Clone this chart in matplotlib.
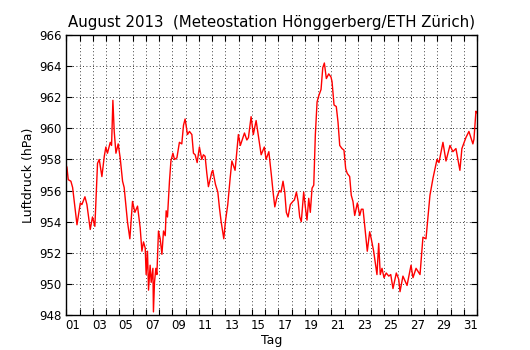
import matplotlib

matplotlib.use("Agg")
import matplotlib.pyplot as plt
from matplotlib.ticker import FixedLocator

# day of month as float (1.0 = 1 Aug 00:00, 32.0 = 1 Sep 00:00)
days = [
    1.00, 1.05, 1.15, 1.35, 1.48, 1.81, 2.06, 2.18, 2.41, 2.56, 2.81, 2.98, 3.16,
    3.36, 3.49, 3.69, 3.87, 3.99, 4.11, 4.32, 4.42, 4.52, 4.62, 4.75, 4.92, 5.07,
    5.25, 5.37, 5.62, 5.80, 6.00, 6.18, 6.38, 6.58, 6.71, 6.83, 6.96, 7.03, 7.13,
    7.21, 7.33, 7.41, 7.54, 7.58, 7.66, 7.76, 7.84, 7.96, 8.09, 8.22, 8.34, 8.47,
    8.54, 8.64, 8.79, 8.90, 9.05, 9.17, 9.35, 9.54, 9.72, 9.85, 9.97, 10.15, 10.30,
    10.48, 10.60, 10.73, 10.88, 11.05, 11.23, 11.35, 11.48, 11.61, 11.73, 11.99,
    12.06, 12.26, 12.44, 12.56, 12.69, 12.89, 13.01, 13.19, 13.37, 13.50, 13.62,
    13.74, 13.82, 13.99, 14.14, 14.45, 14.63, 14.75, 14.95, 15.12, 15.33, 15.50,
    15.71, 15.95, 16.08, 16.29, 16.48, 16.61, 16.74, 16.91, 17.09, 17.21, 17.36,
    17.49, 17.61, 17.74, 17.91, 18.10, 18.22, 18.37, 18.50, 18.62, 18.74, 18.92,
    19.05, 19.17, 19.30, 19.42, 19.55, 19.68, 19.80, 19.93, 20.06, 20.23, 20.36,
    20.48, 20.63, 20.81, 20.98, 21.06, 21.21, 21.38, 21.51, 21.64, 21.81, 21.96,
    22.09, 22.21, 22.39, 22.51, 22.64, 22.77, 22.97, 23.15, 23.27, 23.40, 23.57,
    23.72, 23.90, 24.02, 24.20, 24.35, 24.45, 24.58, 24.70, 24.83, 24.98, 25.15,
    25.34, 25.49, 25.66, 25.91, 26.09, 26.19, 26.41, 26.72, 27.02, 27.17, 27.40,
    27.70, 27.92, 28.15, 28.45, 28.68, 28.98, 29.13, 29.43, 29.66, 29.96, 30.18,
    30.41, 30.71, 30.86, 31.16, 31.39, 31.69, 31.77, 31.92, 32.00,
]

pressure = [
    957.6, 957.5, 956.7, 956.6, 956.2, 953.8, 955.2, 955.1, 955.6, 955.1, 953.5, 954.3, 953.7,
    957.75, 958.0, 956.9, 958.2, 958.8, 958.4, 959.1, 958.9, 961.8, 959.8, 958.4, 959.0, 958.1,
    956.6, 956.2, 954.0, 952.9, 955.3, 954.6, 955.0, 953.6, 952.1, 952.7, 952.3, 950.6, 952.1,
    949.6, 951.2, 950.1, 951.0, 948.2, 950.1, 951.0, 950.6, 953.4, 952.9, 951.9, 953.4, 953.1,
    954.7, 954.3, 956.6, 957.9, 958.4, 958.0, 958.1, 959.1, 959.0, 960.2, 960.6, 959.6, 959.8,
    959.6, 958.4, 958.3, 957.8, 958.8, 958.0, 958.3, 958.2, 957.1, 956.25, 957.2,
    957.3, 956.4, 955.9, 954.9, 954.0, 952.9, 954.0, 955.1, 956.8, 957.9, 957.6,
    957.3, 958.0, 959.6, 958.9, 959.7, 959.25, 959.4, 960.75, 959.6, 960.5, 959.5,
    958.3, 958.8, 958.0, 958.5, 957.0, 955.9, 954.95, 955.6, 956.0, 955.9, 956.6,
    955.9, 954.6, 954.3, 955.1, 955.3, 955.4, 955.9, 955.3, 954.3, 954.0, 955.9,
    954.9, 954.1, 955.5, 954.6, 956.15, 956.35, 959.6, 961.7, 962.1, 962.5, 963.9,
    964.2, 963.2, 963.5, 963.3, 963.0, 961.5, 961.4, 960.4, 958.9, 958.7, 958.6,
    957.4, 957.1, 956.9, 955.7, 955.3, 954.4, 955.2, 954.4, 954.8, 954.8, 953.35,
    952.1, 953.35, 952.9, 952.1, 951.2, 950.6, 952.6, 950.6, 951.0, 950.4, 950.7,
    950.5, 950.6, 949.7, 950.7, 950.3, 949.5, 950.5, 949.9, 951.2, 950.4, 951.0,
    950.6, 953.0, 952.9, 955.7, 956.8, 958.0, 957.8, 959.1, 957.9, 958.9, 958.5,
    958.7, 957.3, 958.7, 959.4, 959.8, 959.0, 959.3, 961.1, 961.0,
]

day_labels = ["%02d" % d for d in range(1, 32, 2)]
y_ticks = list(range(948, 967, 2))

fig = plt.figure(figsize=(5.3, 3.5), dpi=100)
ax = fig.add_axes([0.125, 0.1, 0.775, 0.8])

ax.plot(days, pressure, color="red", linewidth=1.0)

ax.set_xlim(1, 32)
ax.set_ylim(948, 966)

# major ticks at day boundaries (grid), labels centred on the day
ax.xaxis.set_major_locator(FixedLocator(list(range(1, 33))))
ax.xaxis.set_minor_locator(FixedLocator([d + 0.5 for d in range(1, 32, 2)]))
ax.set_xticklabels([], minor=False)
ax.set_xticklabels(day_labels, minor=True)
ax.set_yticks(y_ticks)

ax.tick_params(which="major", direction="in", length=4, width=0.8,
               top=True, right=True, labelsize=8.5)
ax.tick_params(which="minor", length=0, labelsize=8.5, pad=3)
ax.grid(True, which="major", color="black", linestyle=(0, (1, 3)), linewidth=0.6)

for s in ax.spines.values():
    s.set_linewidth(1.0)

ax.set_title("August 2013  (Meteostation Hönggerberg/ETH Zürich)", fontsize=10.8)
ax.set_xlabel("Tag", fontsize=9, labelpad=1)
ax.set_ylabel("Luftdruck (hPa)", fontsize=9, labelpad=3)

fig.savefig("out.png", dpi=100, facecolor="white")
